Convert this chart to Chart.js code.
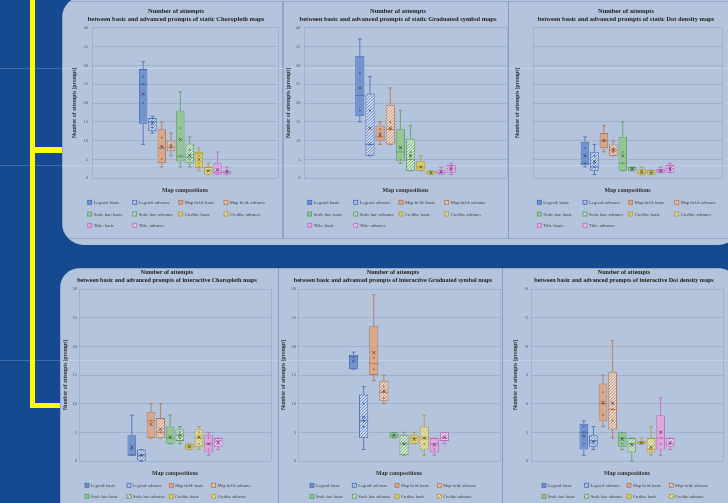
<!DOCTYPE html>
<html><head><meta charset="utf-8">
<script src="https://cdn.jsdelivr.net/npm/chart.js@4/dist/chart.umd.min.js"></script>
<style>
html,body{margin:0;padding:0;width:728px;height:503px;overflow:hidden;background:#154a91;position:relative;}
.bgline{position:absolute;left:0;width:728px;height:1px;background:#3a6db0;}
.yel{position:absolute;background:#ffff00;}
.panel{position:absolute;background:rgba(255,255,255,0.68);overflow:hidden;}
.frame{position:absolute;border:1px solid rgba(120,145,185,0.55);box-sizing:border-box;}
canvas{position:absolute;}
</style></head>
<body>
<div class="bgline" style="top:68px"></div>
<div class="bgline" style="top:165px"></div>
<div class="bgline" style="top:360px"></div>
<div class="yel" style="left:30px;top:0;width:5.3px;height:408.3px"></div>
<div class="yel" style="left:30px;top:147.3px;width:32px;height:5.4px"></div>
<div class="yel" style="left:30px;top:403px;width:30px;height:5.3px"></div>
<div class="panel" style="left:62px;top:-4px;width:678px;height:249px;border-radius:22px;">
  <div class="frame" style="left:0;top:5px;width:221px;height:238px"></div>
  <div class="frame" style="left:220.5px;top:5px;width:226px;height:238px"></div>
  <div class="frame" style="left:446px;top:5px;width:240px;height:238px"></div>
</div>
<div class="panel" style="left:60px;top:268px;width:678px;height:262px;border-radius:20px;">
  <div class="frame" style="left:0;top:0;width:218.5px;height:262px"></div>
  <div class="frame" style="left:217.5px;top:0;width:225px;height:262px"></div>
  <div class="frame" style="left:441.5px;top:0;width:240px;height:262px"></div>
</div>
<canvas id="c1"></canvas><canvas id="c2"></canvas><canvas id="c3"></canvas>
<canvas id="c4"></canvas><canvas id="c5"></canvas><canvas id="c6"></canvas>
<script>
// ---------------- DATA ----------------
const categories = ['Legend: basic','Legend: advance','Map field: basic','Map field: advance','Scale bar: basic','Scale bar: advance','Credits: basic','Credits: advance','Title: basic','Title: advance'];
const staticYMax = 40;
const interactiveYMax = 30;
const yStep = 5;

// static Choropleth
const scMin    = [9, 12, 3, 6, 3, 3, 2, 1, 1, 1];
const scQ1     = [14.5, 12.5, 4, 7.2, 4.5, 4, 2.7, 1, 1, 1];
const scMedian = [25, 15, 8, 8.3, 5.8, 5.5, 6.5, 2, 1.5, 1.5];
const scQ3     = [29, 16, 13, 10, 18, 9.2, 7, 3, 4, 2];
const scMax    = [31, 16.5, 15, 12, 23, 11, 8, 4, 7, 3];
const scMean   = [22.4, 14.5, 8.3, 8.4, 10.3, 6.1, 5, 2, 2.3, 1.7];
const scPoints = [[27,25,20],[15,13.5],[10.8,8.6,5.1],[9,8],[13.3,6],[7.5,6.2,4.9],[6,4,3],[2],[2],[2]];

// static Graduated symbol
const sgMin    = [15, 6, 9, 9, 4, 2, 2, 1, 1, 1];
const sgQ1     = [16.5, 6, 10, 9, 4.5, 2, 2, 1, 1, 1.5];
const sgMedian = [22, 9, 11, 13, 7, 5, 3, 1.5, 1.5, 2.5];
const sgQ3     = [32.5, 22.5, 14, 19.5, 13, 10.5, 4.5, 2, 2.3, 3.5];
const sgMax    = [37, 27, 15, 24, 18, 14, 6, 2, 3, 4];
const sgMean   = [24, 13.3, 11.5, 13.3, 8.2, 6, 3, 1.5, 1.7, 2.5];
const sgPoints = [[28,18],[18,9],[13,12,11],[15,13],[8,5],[7,6,5],[3],[1.5],[2],[3,2]];

// static Dot density
const sdMin    = [3, 1, 7, 6, 2, 2, 1, 1, 1.5, 1.5];
const sdQ1     = [3.5, 2, 8, 6, 2, 2, 1, 1, 1.5, 1.5];
const sdMedian = [4, 3, 10, 7.5, 4, 2.5, 1.5, 1.5, 2, 2.5];
const sdQ3     = [9.7, 7, 12, 9, 11, 3, 2.5, 2.2, 2.5, 3.5];
const sdMax    = [11, 9, 14, 10, 15, 3, 3, 2.2, 3, 4];
const sdMean   = [6, 4.5, 10, 7.5, 6, 2.5, 1.7, 1.5, 2, 2.5];
const sdPoints = [[8,6,4],[6,4,3],[10],[8,7],[7,4],[2.5],[2],[1.5],[2],[3,2]];

// interactive Choropleth
const icMin    = [1, 0, 4, 4, 3, 3, 2, 2, 1, 2];
const icQ1     = [1, 0, 4, 4, 3, 3.5, 2, 2.5, 1.5, 2.5];
const icMedian = [1, 1, 7, 5, 4, 4.5, 2.5, 4, 3, 3.5];
const icQ3     = [4.5, 2, 8.5, 7.5, 6, 5.5, 3, 5.5, 4.5, 4];
const icMax    = [8, 2, 10, 10, 8, 6, 3, 6, 5, 4];
const icMean   = [2.4, 1, 6.4, 5.5, 4.2, 4.5, 2.5, 4.2, 3, 3.3];
const icPoints = [[2],[1,0],[7],[5],[4],[5,4],[2.5],[5,4,3],[4,3,2],[3]];

// interactive Graduated symbol
const igMin    = [16, 2, 14, 10, 4, 1, 3, 1, 1, 3];
const igQ1     = [16, 4, 15, 10.5, 4, 1, 3, 2, 1.5, 3.5];
const igMedian = [18.2, 7, 17, 12, 4.5, 3, 4, 4, 3, 4];
const igQ3     = [18.5, 11.6, 23.5, 14, 5, 4.5, 4.5, 6, 4, 5];
const igMax    = [19, 13, 29, 15, 5, 5, 5, 8, 4, 5];
const igMean   = [17.4, 7.6, 18.9, 12.2, 4.5, 3, 3.8, 4, 2.8, 4.2];
const igPoints = [[18],[10,7,6],[18,16],[13,12,11],[4.5],[3],[4],[4,3],[3,2],[4]];

// interactive Dot density
const idMin    = [1, 2, 6, 4, 2, 0, 3, 1, 1, 2];
const idQ1     = [2, 2.5, 7, 5.5, 2.5, 1.5, 3, 1.5, 2, 2.5];
const idMedian = [5, 3.5, 10, 9, 4, 3, 3.2, 2, 4, 3];
const idQ3     = [6.5, 4.5, 13.5, 15.5, 5, 4, 3.5, 4, 8, 4];
const idMax    = [7, 6, 15, 21, 5, 4, 4, 6, 11, 4];
const idMean   = [4.4, 3.3, 10.2, 10.1, 3.8, 2.8, 3.2, 2.4, 5, 3.2];
const idPoints = [[6,5,3],[3.5],[12,10,8],[10,9,7],[4,3],[3],[3],[2],[5,4,3],[3]];

const titleLine1 = 'Number of attempts';
const chartTitles = [
  'between basic and advanced prompts of static Choropleth maps',
  'between basic and advanced prompts of static Graduated symbol maps',
  'between basic and advanced prompts of static Dot density maps',
  'between basic and advanced prompts of interactive Choropleth maps',
  'between basic and advanced prompts of interactive Graduated symbol maps',
  'between basic and advanced prompts of interactive Dot density maps'
];
const yAxisTitle = 'Number of attempts [prompt]';
const xAxisTitle = 'Map compositions';

// ---------------- STYLE ----------------
const FAM = '"Liberation Serif", "DejaVu Serif", serif';
const borderCols = ['#4669b0','#b5734c','#5c9c5e','#b19a2c','#c465bf'];
const basicFills = ['#7393d0','#d8a88c','#93c693','#d9cd6a','#dfa8dc'];
const advFills   = ['#cbd7ee','#ead5ca','#d3e6d3','#e9e4b8','#edd6ec'];
const hatchCols  = ['#5d7fc3','#bd8a6c','#72aa73','#bba94a','#c97fc5'];

function hatch(bg, line){
  const t = document.createElement('canvas'); t.width = 3; t.height = 3;
  const c = t.getContext('2d');
  c.fillStyle = bg; c.fillRect(0,0,3,3);
  c.strokeStyle = line; c.lineWidth = 0.8;
  c.beginPath(); c.moveTo(0,3); c.lineTo(3,0); c.moveTo(-1,1); c.lineTo(1,-1); c.moveTo(2,4); c.lineTo(4,2); c.stroke();
  return c.createPattern(t,'repeat');
}
const patterns = advFills.map((f,k)=>hatch(f, hatchCols[k]));

function buildDatasets(mn,q1,md,q3,mx,mean,pts){
  return categories.map((label,i)=>{
    const k = Math.floor(i/2);
    return {
      label, data:[[q1[i], q3[i]]],
      backgroundColor: i%2 ? patterns[k] : basicFills[k],
      borderColor: borderCols[k], borderWidth: 0.9, borderSkipped: false,
      stats: {min: mn[i], med: md[i], max: mx[i], mean: mean[i], pts: pts[i]}
    };
  });
}

const boxPlugin = {
  id: 'boxWhisker',
  afterDatasetsDraw(chart){
    const ctx = chart.ctx, y = chart.scales.y;
    chart.data.datasets.forEach((ds,i)=>{
      const bar = chart.getDatasetMeta(i).data[0];
      const x = bar.x, w = bar.width, s = ds.stats, c = ds.borderColor;
      const q1 = y.getPixelForValue(ds.data[0][0]), q3 = y.getPixelForValue(ds.data[0][1]);
      const pMin = y.getPixelForValue(s.min), pMax = y.getPixelForValue(s.max);
      const pMed = y.getPixelForValue(s.med), pMean = y.getPixelForValue(s.mean);
      ctx.save();
      ctx.strokeStyle = c; ctx.lineWidth = 0.8;
      ctx.beginPath();
      ctx.moveTo(x, q3); ctx.lineTo(x, pMax);
      ctx.moveTo(x, q1); ctx.lineTo(x, pMin);
      const cw = w*0.22;
      ctx.moveTo(x-cw, pMax); ctx.lineTo(x+cw, pMax);
      ctx.moveTo(x-cw, pMin); ctx.lineTo(x+cw, pMin);
      ctx.moveTo(x-w/2, pMed); ctx.lineTo(x+w/2, pMed);
      ctx.stroke();
      // inner points
      s.pts.forEach(v=>{
        const py = y.getPixelForValue(v);
        ctx.beginPath(); ctx.arc(x, py, 1.05, 0, Math.PI*2);
        ctx.fillStyle = c; ctx.fill();
      });
      // mean marker
      ctx.strokeStyle = '#3d3d5a'; ctx.lineWidth = 0.7;
      ctx.beginPath();
      ctx.moveTo(x-1.6, pMean-1.6); ctx.lineTo(x+1.6, pMean+1.6);
      ctx.moveTo(x+1.6, pMean-1.6); ctx.lineTo(x-1.6, pMean+1.6);
      ctx.stroke();
      ctx.restore();
    });
  }
};

const gridLegend = {
  id: 'gridLegend',
  afterDraw(chart){
    const o = chart.options.plugins.gridLegend; if (!o) return;
    const ctx = chart.ctx;
    ctx.save();
    chart.data.datasets.forEach((ds,i)=>{
      const x = o.cols[i%4], yc = o.rows[Math.floor(i/4)];
      if (yc === undefined) return;
      ctx.fillStyle = ds.backgroundColor;
      ctx.fillRect(x, yc-2, 4, 4);
      ctx.strokeStyle = ds.borderColor; ctx.lineWidth = 0.8;
      ctx.strokeRect(x, yc-2, 4, 4);
      ctx.fillStyle = '#404040';
      ctx.font = o.size + 'px ' + FAM;
      ctx.textBaseline = 'middle'; ctx.textAlign = 'left';
      ctx.fillText(ds.label, x+6, yc+0.3);
    });
    ctx.restore();
  }
};

// ---------------- LAYOUT ----------------
const layouts = [
  {id:'c1', box:[62,0,283,240],  plot:[92,27.7,278,178.3], titleC:176, t1:11,  yTitleX:75,  tickRight:88,  xTitleY:190, tSize:6.5, lCols:[87.7,132.7,178.7,224], lRows:[202.3,214,225.3], lSize:4.6},
  {id:'c2', box:[283,0,509,240], plot:[304,27.7,507,178.3], titleC:398, t1:11, yTitleX:289, tickRight:300.5, xTitleY:190, tSize:6.5, lCols:[307.7,353.7,399,444.7], lRows:[202.3,214,225.3], lSize:4.6},
  {id:'c3', box:[509,0,740,240], plot:[533,27.7,722,178.3], titleC:626, t1:11, yTitleX:518, tickRight:530, xTitleY:190, tSize:6.5, lCols:[537.3,583,628.7,674.7], lRows:[202.3,214,225.3], lSize:4.6},
  {id:'c4', box:[60,268,278,503], plot:[79,289,271,461], titleC:167, t1:272.3, yTitleX:66, tickRight:77, xTitleY:473, tSize:6.1, lCols:[85,127,169.3,211.7], lRows:[485.3,496.3,507.3], lSize:4.3},
  {id:'c5', box:[278,268,502,503], plot:[298,289,500,461], titleC:393, t1:272.3, yTitleX:284, tickRight:296, xTitleY:473, tSize:6.1, lCols:[310,352.3,395,437.3], lRows:[485.3,496.3,507.3], lSize:4.3},
  {id:'c6', box:[502,268,740,503], plot:[531,289,723,461], titleC:624, t1:272.3, yTitleX:516, tickRight:528, xTitleY:473, tSize:6.1, lCols:[542,584.7,627,669.3], lRows:[485.3,496.3,507.3], lSize:4.3}
];

const chartData = [
  [scMin,scQ1,scMedian,scQ3,scMax,scMean,scPoints, staticYMax],
  [sgMin,sgQ1,sgMedian,sgQ3,sgMax,sgMean,sgPoints, staticYMax],
  [sdMin,sdQ1,sdMedian,sdQ3,sdMax,sdMean,sdPoints, staticYMax],
  [icMin,icQ1,icMedian,icQ3,icMax,icMean,icPoints, interactiveYMax],
  [igMin,igQ1,igMedian,igQ3,igMax,igMean,igPoints, interactiveYMax],
  [idMin,idQ1,idMedian,idQ3,idMax,idMean,idPoints, interactiveYMax]
];

const GRID = 'rgba(120,145,185,0.45)';
const LH_T = 8, LH_X = 7.2, LH_Y = 6.8;

layouts.forEach((L,n)=>{
  const [cL,cT,cR,cB] = L.box, [pL,pT,pR,pB] = L.plot;
  const W = cR-cL, H = cB-cT;
  const cv = document.getElementById(L.id);
  cv.width = W; cv.height = H;
  cv.style.left = cL+'px'; cv.style.top = cT+'px';
  cv.style.width = W+'px'; cv.style.height = H+'px';
  const tPadTop = L.t1 - cT - LH_T/2;
  const tPadBot = pT - cT - tPadTop - 2*LH_T;
  const padB = cB - (L.xTitleY + LH_X/2);
  const xH = L.xTitleY + LH_X/2 - pB;
  const left = 2*L.titleC - pR;
  const padL = left - cL, padR = cR - pR;
  const yW = pL - left;
  const yTitlePad = L.yTitleX - left - LH_Y/2;
  const tickPad = pL - L.tickRight;
  const d = chartData[n];
  new Chart(cv, {
    type:'bar',
    data:{ labels:[''], datasets: buildDatasets(d[0],d[1],d[2],d[3],d[4],d[5],d[6]) },
    options:{
      responsive:false, animation:false, devicePixelRatio:1,
      layout:{ padding:{ left:padL, right:padR, top:0, bottom:padB } },
      datasets:{ bar:{ categoryPercentage:0.5, barPercentage:0.9 } },
      plugins:{
        legend:{ display:false }, tooltip:{ enabled:false },
        title:{ display:true, text:[titleLine1, chartTitles[n]], color:'#202020',
          font:{ family:FAM, size:L.tSize, weight:'bold', lineHeight:LH_T+'px' },
          padding:{ top:tPadTop, bottom:tPadBot } },
        gridLegend:{ cols:L.lCols.map(v=>v-cL), rows:L.lRows.map(v=>v-cT), size:L.lSize }
      },
      scales:{
        x:{ grid:{ color:GRID, drawTicks:false, offset:true, lineWidth:0.8 }, border:{ display:false },
            ticks:{ display:false },
            title:{ display:true, text:xAxisTitle, color:'#303030', padding:0,
              font:{ family:FAM, size:5.9, weight:'bold', lineHeight:LH_X+'px' } },
            afterFit(s){ s.height = xH; } },
        y:{ min:0, max:d[7], grid:{ color:GRID, drawTicks:false, lineWidth:0.8 }, border:{ display:false },
            ticks:{ stepSize:yStep, padding:tickPad, color:'#555', font:{ family:FAM, size:4.5 } },
            title:{ display:true, text:yAxisTitle, color:'#303030', padding:{ top:yTitlePad, bottom:0 },
              font:{ family:FAM, size:5.5, weight:'bold', lineHeight:LH_Y+'px' } },
            afterFit(s){ s.width = yW; } }
      }
    },
    plugins:[boxPlugin, gridLegend]
  });
});
</script>
</body></html>
